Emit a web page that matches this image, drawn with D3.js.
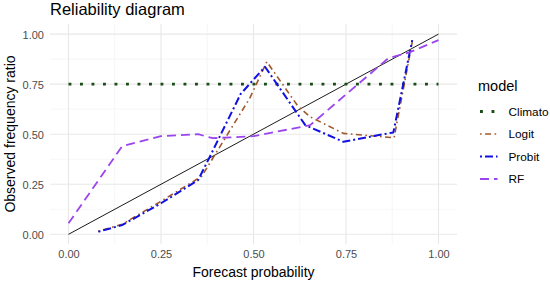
<!DOCTYPE html>
<html>
<head>
<meta charset="utf-8">
<script src="https://cdn.jsdelivr.net/npm/d3@7"></script>
<style>
html,body{margin:0;padding:0;background:#fff;}
svg{display:block;font-family:"Liberation Sans",Arial,sans-serif;}
</style>
</head>
<body>
<svg id="chart" width="550" height="283"></svg>
<script>
// ---- data ----
const models = ["Climato", "Logit", "Probit", "RF"];
const climatoX = [0, 1];
const climatoY = [0.75, 0.75];
const logitX = [0.08, 0.145, 0.25, 0.36, 0.39, 0.49, 0.536, 0.62, 0.653, 0.743, 0.88, 0.929];
const logitY = [0.015, 0.05, 0.165, 0.29, 0.38, 0.68, 0.862, 0.64, 0.587, 0.504, 0.482, 0.96];
const probitX = [0.081, 0.145, 0.25, 0.35, 0.38, 0.465, 0.531, 0.64, 0.743, 0.878, 0.929];
const probitY = [0.013, 0.046, 0.155, 0.27, 0.38, 0.70, 0.837, 0.545, 0.462, 0.509, 0.97];
const rfX = [0.0, 0.145, 0.25, 0.35, 0.39, 0.5, 0.653, 0.864, 0.923, 1.0];
const rfY = [0.055, 0.44, 0.49, 0.50, 0.48, 0.49, 0.545, 0.879, 0.91, 0.97];
const diagX = [0, 1];
const diagY = [0, 1];
const xTicks = [0, 0.25, 0.5, 0.75, 1];
const yTicks = [0, 0.25, 0.5, 0.75, 1];
const tickLabels = ["0.00", "0.25", "0.50", "0.75", "1.00"];

// ---- styles ----
const styles = {
  Climato: {color: "#1a4d1a", width: 2.9, dash: "2.9 8.6", cap: "butt"},
  Logit:   {color: "#a0582a", width: 1.6, dash: "1.6 3.5 6 3.5", cap: "butt"},
  Probit:  {color: "#1010e0", width: 2.0, dash: "2 3 8 3", cap: "butt"},
  RF:      {color: "#9b45ee", width: 1.8, dash: "9 5", cap: "butt"}
};
const seriesData = {
  Climato: climatoX.map((x, i) => [x, climatoY[i]]),
  Logit: logitX.map((x, i) => [x, logitY[i]]),
  Probit: probitX.map((x, i) => [x, probitY[i]]),
  RF: rfX.map((x, i) => [x, rfY[i]])
};

const svg = d3.select("#chart");
const x = d3.scaleLinear().domain([0, 1]).range([68.5, 438.5]);
const y = d3.scaleLinear().domain([0, 1]).range([234.3, 34.1]);
const panel = {l: 50, r: 457, t: 24, b: 244.3};

// grid
const g = svg.append("g");
const minorX = [0.125, 0.375, 0.625, 0.875];
const minorY = [0.125, 0.375, 0.625, 0.875];
g.selectAll(".mgx").data(minorX).enter().append("line")
  .attr("x1", d => x(d)).attr("x2", d => x(d)).attr("y1", panel.t).attr("y2", panel.b)
  .attr("stroke", "#f0f0f0").attr("stroke-width", 0.6);
g.selectAll(".mgy").data(minorY).enter().append("line")
  .attr("y1", d => y(d)).attr("y2", d => y(d)).attr("x1", panel.l).attr("x2", panel.r)
  .attr("stroke", "#f0f0f0").attr("stroke-width", 0.6);
g.selectAll(".gx").data(xTicks).enter().append("line")
  .attr("x1", d => x(d)).attr("x2", d => x(d)).attr("y1", panel.t).attr("y2", panel.b)
  .attr("stroke", "#e8e8e8").attr("stroke-width", 1.1);
g.selectAll(".gy").data(yTicks).enter().append("line")
  .attr("y1", d => y(d)).attr("y2", d => y(d)).attr("x1", panel.l).attr("x2", panel.r)
  .attr("stroke", "#e8e8e8").attr("stroke-width", 1.1);

// axes (labels only)
const xAxis = d3.axisBottom(x).tickValues(xTicks).tickFormat((d, i) => tickLabels[i]).tickSize(0).tickPadding(0);
const xa = svg.append("g").attr("transform", "translate(0,250)").call(xAxis);
xa.select(".domain").remove();
xa.selectAll("text").attr("font-size", 11).attr("fill", "#4d4d4d")
  .attr("font-family", "Liberation Sans, Arial, sans-serif").attr("dy", "0.71em");

const yAxis = d3.axisLeft(y).tickValues(yTicks).tickFormat((d, i) => tickLabels[i]).tickSize(0).tickPadding(0);
const ya = svg.append("g").attr("transform", "translate(44,0)").call(yAxis);
ya.select(".domain").remove();
ya.selectAll("text").attr("font-size", 11).attr("fill", "#4d4d4d")
  .attr("font-family", "Liberation Sans, Arial, sans-serif").attr("dy", "0.36em");

// diagonal
const line = d3.line().x(d => x(d[0])).y(d => y(d[1]));
svg.append("path").datum(diagX.map((v, i) => [v, diagY[i]]))
  .attr("d", line).attr("fill", "none").attr("stroke", "#000").attr("stroke-width", 0.9);

// series
models.forEach(m => {
  const s = styles[m];
  svg.append("path").datum(seriesData[m]).attr("d", line)
    .attr("fill", "none").attr("stroke", s.color).attr("stroke-width", s.width)
    .attr("stroke-dasharray", s.dash).attr("stroke-linecap", s.cap)
    .attr("stroke-linejoin", "round");
});

// title
svg.append("text").attr("x", 50).attr("y", 15).attr("font-size", 16.5).attr("fill", "#000")
  .text("Reliability diagram");
// axis titles
svg.append("text").attr("x", 253.5).attr("y", 276.5).attr("text-anchor", "middle")
  .attr("font-size", 14).attr("fill", "#000").text("Forecast probability");
svg.append("text").attr("transform", "translate(15,134) rotate(-90)").attr("text-anchor", "middle")
  .attr("font-size", 14).attr("fill", "#000").text("Observed frequency ratio");

// legend
const leg = svg.append("g");
leg.append("text").attr("x", 478).attr("y", 91).attr("font-size", 14.5).attr("fill", "#000").text("model");
const keyY = d3.scalePoint().domain(models).range([111.5, 179]);
models.forEach(m => {
  const s = styles[m];
  const cy = keyY(m);
  leg.append("line").attr("x1", 480).attr("x2", 497.5).attr("y1", cy).attr("y2", cy)
    .attr("stroke", s.color).attr("stroke-width", s.width).attr("stroke-dasharray", s.dash)
    .attr("stroke-linecap", s.cap);
  leg.append("text").attr("x", 508.5).attr("y", cy).attr("dy", "0.36em").attr("font-size", 11.8)
    .attr("fill", "#000").text(m);
});
</script>
</body>
</html>
